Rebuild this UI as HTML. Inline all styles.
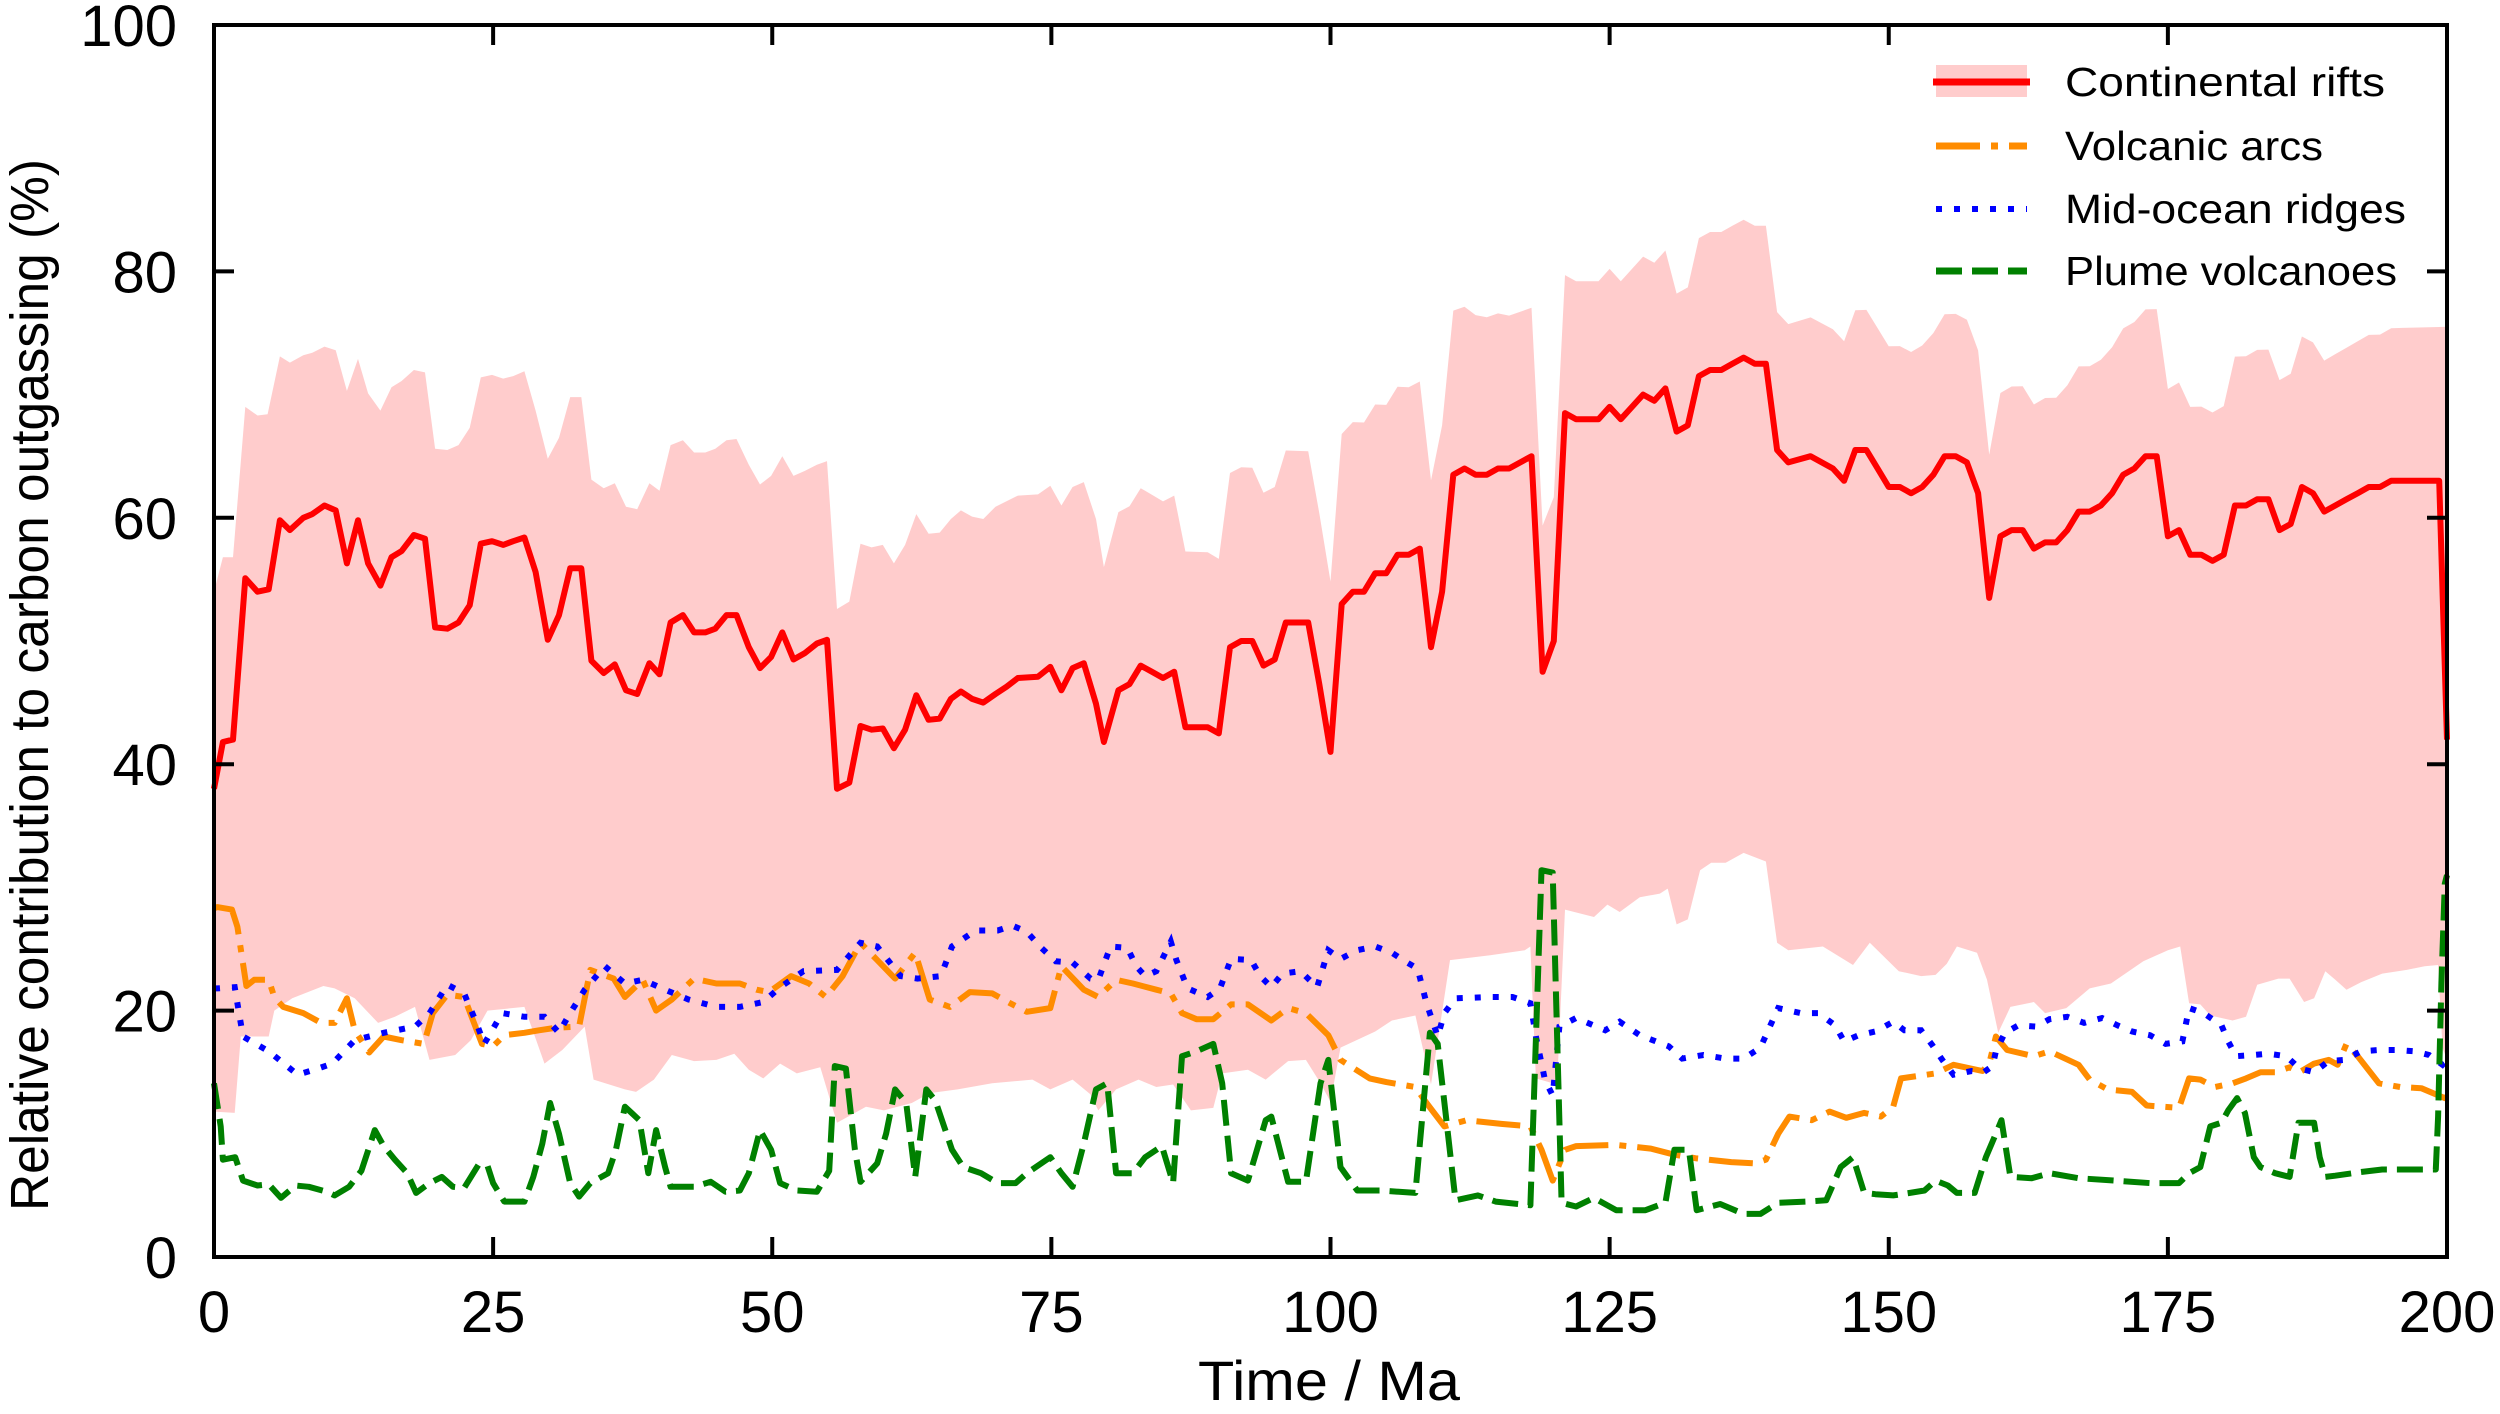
<!DOCTYPE html>
<html><head><meta charset="utf-8"><style>
html,body{margin:0;padding:0;background:#fff;}
svg{display:block;}
text{font-family:"Liberation Sans",sans-serif;fill:#000;}
</style></head><body>
<svg id="s" width="2500" height="1414" viewBox="0 0 2500 1414" xmlns="http://www.w3.org/2000/svg">
<rect width="2500" height="1414" fill="#fff"/>
<g id="plot"></g>
<g id="axes" fill="none" stroke="#000" stroke-width="4">
<rect x="214" y="25" width="2233" height="1232"/>
</g>
<g id="ticks" stroke="#000" stroke-width="4"></g>
<g id="labels" font-size="58"></g>
<text x="1329" y="1400" font-size="56" text-anchor="middle" textLength="262" lengthAdjust="spacingAndGlyphs">Time / Ma</text>
<text transform="translate(48,685) rotate(-90)" font-size="54" text-anchor="middle" textLength="1052" lengthAdjust="spacingAndGlyphs">Relative contribution to carbon outgassing (%)</text>
<g id="legend">
<rect x="1936" y="65" width="91" height="32" fill="#ffcccc"/>
<line x1="1933" y1="82" x2="2030" y2="82" stroke="#ff0000" stroke-width="7"/>
<text x="2065" y="96" font-size="41" textLength="320" lengthAdjust="spacingAndGlyphs">Continental rifts</text>
<line x1="1936" y1="146" x2="2027" y2="146" stroke="#ff8c00" stroke-width="7" stroke-dasharray="44 11 7 11"/>
<text x="2065" y="160" font-size="41" textLength="258" lengthAdjust="spacingAndGlyphs">Volcanic arcs</text>
<line x1="1936" y1="209" x2="2027" y2="209" stroke="#0000ff" stroke-width="6" stroke-dasharray="6 12"/>
<text x="2065" y="223" font-size="41" textLength="341" lengthAdjust="spacingAndGlyphs">Mid-ocean ridges</text>
<line x1="1936" y1="271" x2="2027" y2="271" stroke="#008000" stroke-width="7" stroke-dasharray="26 10"/>
<text x="2065" y="285" font-size="41" textLength="332" lengthAdjust="spacingAndGlyphs">Plume volcanoes</text>
</g>
</svg>
<script>
(function(){
var NS="http://www.w3.org/2000/svg";
function X(t){return 214+t*11.165;}
function Y(v){return 1257-v*12.32;}
function pts(a){var s=[];for(var i=0;i<a.length;i+=2)s.push(X(a[i]).toFixed(1)+","+Y(a[i+1]).toFixed(1));return s;}
var red=[0,38,0.8,41.8,1.7,42,2.8,55.1,3.9,54,4.9,54.2,5.9,59.8,6.8,59,8,60,8.8,60.3,9.9,61,10.9,60.6,11.9,56.3,12.9,59.8,13.8,56.3,14.9,54.5,15.9,56.8,16.8,57.3,17.9,58.6,18.9,58.3,19.8,51.1,20.9,51,21.9,51.5,22.9,52.9,23.9,57.9,24.9,58.1,25.9,57.8,26.8,58.1,27.8,58.4,28.8,55.6,29.9,50.1,30.9,52.1,31.9,55.9,32.9,55.9,33.8,48.4,34.9,47.4,35.9,48.1,36.9,46,37.9,45.7,39,48.2,39.9,47.3,40.9,51.5,42,52.1,43,50.7,44,50.7,44.9,51,45.9,52.1,46.8,52.1,47.9,49.5,48.9,47.8,49.9,48.7,50.9,50.7,51.9,48.5,52.9,49,54,49.8,54.9,50.1,55.8,38,56.9,38.5,57.9,43.1,58.9,42.8,59.9,42.9,60.9,41.3,61.9,42.8,62.9,45.6,64,43.6,65,43.7,66,45.3,66.9,45.9,67.9,45.3,68.9,45,70,45.7,71,46.3,72,47,73.8,47.1,74.9,47.9,75.9,46,76.9,47.8,77.9,48.2,79,44.9,79.7,41.8,81,46,82,46.5,83,48,84,47.5,85,47,86,47.5,87,43,88,43,89,43,90,42.5,91,49.5,92,50,93,50,94,48,95,48.5,96,51.5,97,51.5,98,51.5,99,46.5,100,41,101,53,102,54,103,54,104,55.5,105,55.5,106,57,107,57,108,57.5,109,49.5,110,54,111,63.5,112,64,113,63.5,114,63.5,115,64,116,64,117,64.5,118,65,119,47.5,120,50,121,68.5,122,68,124,68,125,69,126,68,127,69,128,70,129,69.5,130,70.5,131,67,132,67.5,133,71.5,134,72,135,72,136,72.5,137,73,138,72.5,139,72.5,140,65.5,141,64.5,143,65,145,64,146,63,147,65.5,148,65.5,149,64,150,62.5,151,62.5,152,62,153,62.5,154,63.5,155,65,156,65,157,64.5,158,62,159,53.5,160,58.5,161,59,162,59,163,57.5,164,58,165,58,166,59,167,60.5,168,60.5,169,61,170,62,171,63.5,172,64,173,65,174,65,175,58.5,176,59,177,57,178,57,179,56.5,180,57,181,61,182,61,183,61.5,184,61.5,185,59,186,59.5,187,62.5,188,62,189,60.5,190,61,191,61.5,192,62,193,62.5,194,62.5,195,63,196,63,197,63,199.3,63,200,42];
var upA=[0,54,0.8,56.8,1.7,56.8,2.8,69,3.9,68.3,4.8,68.4,5.9,73.1,6.8,72.6,8,73.2,8.8,73.4,9.9,73.9,10.9,73.6,11.9,70.3,12.9,72.9,13.8,70.1,14.9,68.7,15.9,70.6,16.8,71.1,17.9,72,18.9,71.8,19.8,65.6,20.9,65.5,21.9,65.9,22.9,67.3,23.9,71.4,24.9,71.6,25.9,71.3,26.8,71.5,27.8,71.9,28.8,68.7,29.9,64.8,30.9,66.5,31.9,69.8,32.9,69.8,33.8,63.1,34.9,62.4,35.9,62.8,36.9,60.9,37.9,60.7,39,62.8,39.9,62.2,40.9,65.9,42,66.3,43,65.3,44,65.3,44.9,65.6,45.9,66.3,46.8,66.4,47.9,64.3,48.9,62.7,49.9,63.4,50.9,65,51.9,63.4,52.9,63.8,54,64.3,54.9,64.6,55.8,52.6,56.9,53.2,57.9,57.9,58.9,57.6,59.9,57.8,60.9,56.3,61.9,57.8,62.9,60.3,64,58.7,65,58.8,66,59.9,66.9,60.6,67.9,60.1,68.9,59.9,70,60.9,72,61.8,73.8,61.9,74.9,62.6,75.9,61,76.9,62.5,77.9,62.9,79,59.9,79.7,56];
function off(t){if(t<110)return 14.5-(t-80)/30;if(t<121)return 13.5-2*(t-110)/11;if(t<140)return 11.2;return 11.2+1.3*(t-140)/60;}
var up=upA.slice();
for(var i=0;i<red.length;i+=2){var t=red[i];if(t>80&&t<199.5)up.push(t,red[i+1]+off(t));}
up.push(200,75.5);
var lo=[0,11.8,1.85,11.7,2.4,17.9,4.9,17.9,5.4,20,7,21,9.8,22,10.8,21.8,12.6,21,14.7,19,16.2,19.5,18,20.3,19.3,16,21.6,16.4,23,17.6,24.5,20,27.8,20.3,29.6,15.7,31.2,16.8,33.2,18.7,34,14.4,36.8,13.6,37.8,13.4,39.4,14.4,41,16.4,43,15.9,45,16,46.6,16.5,47.9,15.2,49.2,14.5,50.7,15.7,52.2,14.9,54.3,15.4,55.8,10.9,58.4,12.2,60,11.9,62.5,12.5,64.1,13.3,66.6,13.6,69.7,14.1,73.3,14.4,74.9,13.6,76.9,14.4,78.5,13.2,79.2,11.9,80.8,13.6,82.8,14.4,84.4,13.8,85.9,14,87.5,11.9,89.5,12.1,90.3,14.9,92.6,15.2,94.2,14.4,96.2,15.9,97.8,16,99.1,14.1,100,12.6,100.9,17,104,18.3,105.5,19.2,107.6,19.6,109,14,110.7,24.1,114.3,24.5,117.4,24.9,117.9,25.2,118.4,14.5,120.3,14,121,28.2,123.6,27.6,124.8,28.6,125.9,28,127.7,29.2,129.5,29.5,130.2,29.9,131,27,132,27.4,133.1,31.4,134.1,32,135.4,32,137,32.8,139,32.1,140,25.5,141,24.9,144.1,25.2,146.8,23.7,148.3,25.5,150.9,23.2,152.9,22.8,154.2,22.9,155.2,23.8,156.1,25.2,157.9,24.7,158.8,22.5,159.8,18.2,160.9,20.3,163,20.7,164,19.8,165.9,20.2,168,21.8,169.9,22.2,172.8,24,175,24.9,176.1,25.2,176.9,20.6,177.9,20.5,178.8,19.6,180.8,19.2,182,19.5,183,22.1,184.9,22.6,185.9,22.6,187.2,20.7,188.1,21,189.1,23.2,190,22.5,191,21.7,192.3,22.3,194.2,23,196.4,23.3,198,23.6,199.2,23.7,199.6,17,200,16];
var orange=[0,28.3,0.3,28.4,1.6,28.2,2.1,26.8,2.9,22,3.6,22.5,4.9,22.5,5.4,21.1,6.2,20.3,8,19.8,9.6,19,10.8,19,11.9,21,12.6,18.4,13.9,16.6,15.2,17.9,16.8,17.6,18.8,17.3,19.6,19.8,20.9,21.3,22.4,21.1,24,17.3,25,17.1,26,18,27.8,18.2,29.1,18.4,30.6,18.6,32.7,18.7,33.7,23.3,35.8,22.6,36.8,21.1,38.4,22.5,39.6,20,41,20.9,43,22.6,45,22.2,47.1,22.2,48.6,21.7,49.7,21.5,51.7,22.8,53.3,22.2,54.8,21.1,56.3,22.8,57.9,25.5,59.4,24.1,61,22.6,62.8,24.7,64.1,20.9,65.9,20.3,67.7,21.5,69.7,21.4,71.3,20.6,72.8,19.9,74.9,20.2,75.9,23.6,77.9,21.7,79.2,21.1,80.8,22.5,82.3,22.2,84.4,21.7,85.7,21.4,86.7,19.8,88,19.3,89.5,19.3,91.1,20.5,92.6,20.5,94.7,19.2,96.2,20.2,97.8,19.8,99.8,18,100.9,16,103.5,14.5,105,14.2,107.6,13.8,108.6,12.5,110.2,10.6,112.2,11.1,115.3,10.8,117.9,10.6,118.9,8.7,119.9,6.2,121,8.7,122,9,125.6,9.1,128.7,8.8,130.8,8.3,132.8,8,135.9,7.7,138,7.6,139,7.9,140.1,10,141.1,11.4,143.1,11.1,144.7,11.8,146.2,11.3,147.8,11.7,149.3,11.4,150.4,12.2,151.1,14.5,154.2,14.9,155.8,15.6,158.4,15.1,159,15.7,159.6,17.9,160.6,16.8,163,16.3,164.4,16.7,167,15.6,168,14.4,169.6,13.6,171.8,13.4,173.1,12.3,176,12.1,176.9,14.5,177.9,14.4,179.2,13.8,180.8,14.1,182,14.5,183.3,15,184.6,15,185.9,15.4,186.8,15,188.1,15.7,189.4,16,190.2,15.6,191,17.3,192,16.3,193.9,14.1,195.8,13.8,197.7,13.7,199.8,12.9,200,13];
var blue=[0,21.8,0.3,21.8,1.85,21.9,2.6,17.9,4.9,16.7,7.5,14.8,9,15.2,10.6,15.7,12.6,17.6,15.2,18.2,18,18.7,19.3,19.8,20.9,22.1,22.4,21.4,23.5,19,24.2,17.3,25.8,19.8,27.8,19.5,29.6,19.5,30.9,18.2,31.7,19.5,33.2,21.7,35,23.6,36.8,22.2,38.4,22.5,40.4,21.7,42.5,20.9,45,20.3,47.1,20.3,49.2,20.7,50.7,21.9,52.8,23.2,55.8,23.3,57.9,25.5,59.4,25.2,61.5,22.8,63,22.6,65.1,22.8,66.1,25.2,68.2,26.5,70.2,26.5,71.5,26.9,72.8,26.4,74.1,25.1,75.4,24,76.9,23.9,78.5,22.6,79.2,22.5,80.3,25.2,81.8,25.1,82.6,23.6,83.4,22.8,84.4,23.2,85.7,25.6,86.2,24.1,87.2,21.8,89,21.1,90.1,21.8,91.1,24.2,92.9,24.1,93.7,22.8,94.7,21.9,95.7,23,97.3,23.2,98.8,21.9,99.8,24.9,100.9,24.2,102.4,24.9,104,25.2,105.5,24.7,106.5,24.1,107.8,23.4,108.6,20.6,109.6,17.9,110.2,19.8,111.2,21,114.3,21.1,116.3,21.1,117.9,20.6,118.4,17.9,119.2,14.4,119.9,13.1,120.5,18.7,122,19.4,124.6,18.4,125.9,19.1,127.7,18,130.3,17.1,131.5,16.1,133.4,16.4,135.4,16.1,137,16.1,138.5,17,139.5,19,140.1,20.2,142.1,19.8,143.7,19.8,145.2,18.8,146,17.5,147.3,18,148.8,18.3,150.4,19.1,151.4,18.4,152.9,18.4,153.9,17.2,154.8,16,155.8,14.8,157.4,15.1,158.5,15,159.3,15.5,159.6,16.7,160.4,18.2,161.6,18.8,163.2,18.7,164.4,19.3,166,19.5,167.5,19,169.1,19.4,170.5,18.8,171.8,18.3,173.4,18,174.8,17.3,176.3,17.5,176.9,20.2,178.2,19.8,179.8,18.8,180.4,17.5,181.1,16.3,182.7,16.4,184,16.5,185.6,16.3,186.8,15.3,188.1,15,189.4,15.9,190.8,16,192.3,16.7,193.9,16.8,195.5,16.8,197.1,16.7,198.4,16.4,199.6,15.6,200,16];
var green=[0,14.1,0.6,10.6,0.8,7.9,1.9,8.1,2.6,6.2,3.9,5.8,4.9,5.9,6,4.8,7.3,5.8,8.5,5.7,10.1,5.3,10.8,5,12.1,5.7,13.2,7,14.4,10.3,15.2,9,16.2,7.9,17.3,6.8,18.1,5.2,19.3,6,20.4,6.5,21.4,5.7,22.4,5.6,23.7,7.5,24.5,7.4,25,6,26,4.5,27.8,4.5,28.6,6.5,29.4,9.2,30.1,12.5,30.9,10,31.9,6,32.7,4.9,33.7,6,35.3,6.8,36,8.7,36.8,12.2,38.1,11.1,38.9,6.8,39.6,10.3,40.4,7.3,40.9,5.7,43,5.7,44.5,6.1,45.8,5.3,47.1,5.4,47.9,6.8,48.9,10.3,49.9,8.7,50.7,6,52.2,5.4,54,5.3,55.1,7,55.6,15.5,56.6,15.3,57.4,8.7,57.9,6.1,59.4,7.6,60.2,10,61,13.6,62,12.5,62.8,6.5,63.8,13.6,64.6,12.7,66.1,8.7,67.1,7.3,68.7,6.8,70.2,6,71.8,6,72.8,6.8,74.9,8.1,75.9,6.8,76.9,5.7,77.9,9.2,79,13.6,80,14.1,80.8,6.8,82.3,6.8,83.4,8.1,84.9,9,85.9,6,86.7,16.3,88,16.7,89.5,17.3,90.3,14.1,91.1,6.8,92.6,6.2,94.2,11.1,94.7,11.4,96.2,6.1,97.8,6.1,99.1,14.1,99.8,16,100.9,7.3,102.4,5.4,104.5,5.4,107.6,5.2,108.9,18.2,109.6,17.3,111.2,4.6,113.2,5,114.8,4.5,117.9,4.2,118.9,31.4,119.9,31.2,120.7,4.4,122,4.1,123.6,4.8,125.6,3.8,128.2,3.8,130,4.4,130.8,8.7,132.1,8.7,132.8,3.8,134.9,4.3,137,3.5,138.5,3.5,140.1,4.4,142.6,4.5,144.4,4.6,145.7,7.3,146.8,8.1,147.8,5.2,148.8,5.1,150.4,5,151.9,5.2,153.2,5.4,154.2,6.2,155.3,5.8,156.1,5.2,157.7,5.2,158.7,8.1,159.5,9.8,160.1,11.1,160.9,6.5,162.8,6.4,164.4,6.8,167,6.4,170.2,6.2,173.4,6,176,6,176.9,6.8,177.9,7.3,178.8,10.6,179.8,10.9,180.4,11.9,181.2,12.9,181.9,11.7,182.7,8.1,183.3,7.3,184.6,6.8,185.9,6.5,186.7,10.9,188.1,10.9,188.6,8.1,189.1,6.5,190,6.6,192.3,6.9,194.2,7.1,196.4,7.1,199,7.1,199.2,11.4,199.5,22.2,199.8,30.3,200,31];
var g=document.getElementById("plot");
function el(tag,attrs){var e=document.createElementNS(NS,tag);for(var k in attrs)e.setAttribute(k,attrs[k]);g.appendChild(e);return e;}
var upP=pts(up),loP=pts(lo).reverse();
el("polygon",{points:upP.concat(loP).join(" "),fill:"#ffcccc",stroke:"none"});
el("polyline",{points:pts(red).join(" "),fill:"none",stroke:"#ff0000","stroke-width":6,"stroke-linejoin":"round"});
el("polyline",{points:pts(orange).join(" "),fill:"none",stroke:"#ff8c00","stroke-width":6,"stroke-dasharray":"44 11 7 11","stroke-linejoin":"round"});
el("polyline",{points:pts(blue).join(" "),fill:"none",stroke:"#0000ff","stroke-width":6,"stroke-dasharray":"6 12"});
el("polyline",{points:pts(green).join(" "),fill:"none",stroke:"#008000","stroke-width":6,"stroke-dasharray":"26 10","stroke-linejoin":"round"});
var tk=document.getElementById("ticks"),lb=document.getElementById("labels");
function ln(x1,y1,x2,y2){var e=document.createElementNS(NS,"line");e.setAttribute("x1",x1);e.setAttribute("y1",y1);e.setAttribute("x2",x2);e.setAttribute("y2",y2);tk.appendChild(e);}
function tx(x,y,s,a){var e=document.createElementNS(NS,"text");e.setAttribute("x",x);e.setAttribute("y",y);e.setAttribute("text-anchor",a);e.textContent=s;lb.appendChild(e);}
for(var v=0;v<=100;v+=20){var y=Y(v);ln(214,y,234,y);ln(2447,y,2427,y);tx(177,y+21,String(v),"end");}
for(var t=0;t<=200;t+=25){var x=X(t);ln(x,1257,x,1237);ln(x,25,x,45);tx(x,1332,String(t),"middle");}
})();
</script>
</body></html>
